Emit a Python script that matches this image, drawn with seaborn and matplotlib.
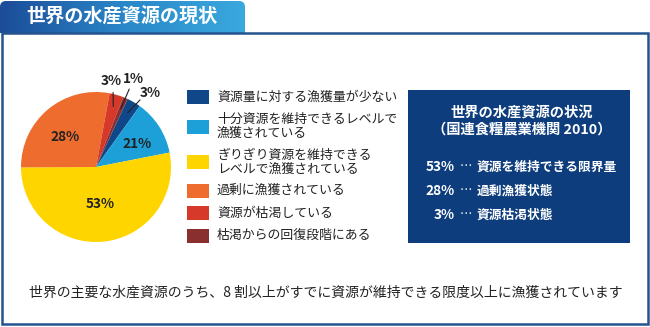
import numpy as np
import matplotlib
matplotlib.use("Agg")
import matplotlib.pyplot as plt
import seaborn as sns
from matplotlib.patches import Rectangle, FancyBboxPatch

# ---------------- data ----------------
categories = [
    "資源量に対する漁獲量が少ない",
    "十分資源を維持できるレベルで\n漁獲されている",
    "ぎりぎり資源を維持できる\nレベルで漁獲されている",
    "過剰に漁獲されている",
    "資源が枯渇している",
    "枯渇からの回復段階にある",
]
shares = [3, 12, 53, 28, 3, 1]                     # slice sizes
slice_labels = ["3%", "21%", "53%", "28%", "3%", "1%"]  # labels as printed
title = "世界の水産資源の現状"
box_title = ["世界の水産資源の状況", "（国連食糧農業機関 2010）"]
box_pcts = ["53%", "28%", "3%"]
box_texts = ["資源を維持できる限界量", "過剰漁獲状態", "資源枯渇状態"]
caption = "世界の主要な水産資源のうち、8 割以上がすでに資源が維持できる限度以上に漁獲されています"

# ---------------- style ----------------
sns.set_theme(style="white")
plt.rcParams["font.family"] = ["Noto Sans CJK JP", "DejaVu Sans"]
colors = ["#0f4788", "#1d9fd8", "#ffd500", "#ee6c2e", "#d6392a", "#8a2f30"]
navy = "#0d3d7d"
frame_col = "#24548f"

W, H = 650, 327
fig = plt.figure(figsize=(W / 100, H / 100), dpi=100)
fig.patch.set_facecolor("white")

bg = fig.add_axes([0, 0, 1, 1])
bg.set_xlim(0, W)
bg.set_ylim(H, 0)
bg.axis("off")

# title tab with gradient
tab = FancyBboxPatch((0, 1), 245, 40, boxstyle="round,pad=0,rounding_size=6",
                     linewidth=0, facecolor="none")
bg.add_patch(tab)
grad = np.linspace(0, 1, 256)[None, :]
cmap = matplotlib.colors.LinearSegmentedColormap.from_list("g", ["#1b4c98", "#2a86c8", "#3aa9de"])
im = bg.imshow(grad, extent=[0, 245, 33, 1], cmap=cmap, aspect="auto", zorder=1)
im.set_clip_path(tab)
bg.text(26, 17.5, title, color="white", fontsize=13.8, fontweight="bold",
        va="center", ha="left", zorder=3)

# frame
bg.add_patch(Rectangle((2, 33), 646, 291, fill=False, edgecolor=frame_col,
                       linewidth=1.8, zorder=2))

# ---------------- pie ----------------
cx, cy, R = 96, 167, 75
pax = fig.add_axes([(cx - R) / W, (H - cy - R) / H, 2 * R / W, 2 * R / H])
wedges, _ = pax.pie(shares, colors=colors, startangle=65.1, counterclock=False,
                    wedgeprops=dict(linewidth=0))
pax.set_xlim(-1, 1)
pax.set_ylim(-1, 1)
pax.set_aspect("equal")
pax.axis("off")

# label placement style: (radius, angle shift, leader?)
place = [(1.22, -6, True), (0.63, -4, False), (0.50, 0, False),
         (0.58, 6, False), (1.17, 6, True), (1.28, 0, True)]
for w, lab, (r, dth, lead) in zip(wedges, slice_labels, place):
    mid = np.deg2rad((w.theta1 + w.theta2) / 2)
    ang = mid + np.deg2rad(dth)
    x, y = r * np.cos(ang), r * np.sin(ang)
    pax.text(x, y, lab, ha="center", va="center", fontsize=9.8, fontweight="bold",
             color="#222222", clip_on=False)
    if lead:
        r_in = 0.84
        a_out = mid + np.deg2rad(dth * 0.5)
        r_out = r - 0.15
        pax.plot([r_in * np.cos(mid), r_out * np.cos(a_out)],
                 [r_in * np.sin(mid), r_out * np.sin(a_out)],
                 color="#222222", lw=0.8, clip_on=False)

# ---------------- legend ----------------
row_y = [97, 126.5, 162, 190.5, 213, 235.5]
for col, txt, yy in zip(colors, categories, row_y):
    bg.add_patch(Rectangle((187, yy - 7), 22, 14, facecolor=col, edgecolor="none"))
    bg.text(217, yy, txt, fontsize=9.3, va="center", ha="left", color="#222222",
            linespacing=1.05)

# ---------------- info box ----------------
bg.add_patch(Rectangle((408, 90), 222, 153, facecolor=navy, edgecolor="none"))
bg.text(522, 113, box_title[0], color="white", fontsize=10.3, fontweight="bold",
        ha="center", va="center")
bg.text(522, 130, box_title[1], color="white", fontsize=10.3, fontweight="bold",
        ha="center", va="center")
for p, t, yy in zip(box_pcts, box_texts, [167, 191, 215]):
    bg.text(455, yy, p, color="white", fontsize=9.8, fontweight="bold",
            ha="right", va="center")
    bg.text(460, yy, "…", color="white", fontsize=9, ha="left", va="center")
    bg.text(477, yy, t, color="white", fontsize=9.2, fontweight="bold",
            ha="left", va="center")

# ---------------- caption ----------------
bg.text(326, 293, caption, fontsize=10, ha="center", va="center", color="#222222")

fig.savefig("out.png", dpi=100)
